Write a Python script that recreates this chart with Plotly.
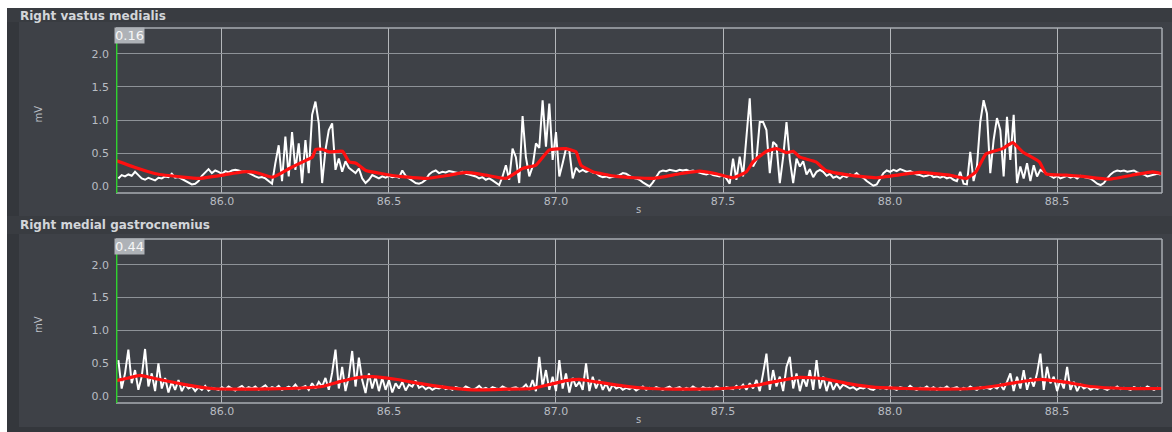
import plotly.graph_objects as go

# ---- EMG recording: rectified signal sampled every 10 ms, plus smoothed envelope ----
T0 = 85.69
DT = 0.01

vm_raw = [
    0.12, 0.17, 0.15, 0.18, 0.16, 0.22, 0.17, 0.12, 0.10, 0.13,
    0.11, 0.09, 0.13, 0.12, 0.15, 0.14, 0.19, 0.13, 0.14, 0.11,
    0.08, 0.05, 0.03, 0.04, 0.08, 0.16, 0.21, 0.26, 0.20, 0.24,
    0.22, 0.19, 0.23, 0.21, 0.24, 0.25, 0.24, 0.22, 0.23, 0.20,
    0.17, 0.15, 0.13, 0.14, 0.12, 0.08, 0.04, 0.35, 0.62, 0.08,
    0.75, 0.15, 0.82, 0.25, 0.65, 0.05, 0.70, 0.20, 1.08, 1.28,
    0.95, 0.05, 0.55, 0.85, 0.95, 0.25, 0.42, 0.22, 0.38, 0.28,
    0.24, 0.20, 0.27, 0.12, 0.05, 0.10, 0.17, 0.14, 0.12, 0.15,
    0.13, 0.16, 0.14, 0.15, 0.13, 0.24, 0.16, 0.12, 0.08, 0.05,
    0.04, 0.06, 0.10, 0.18, 0.22, 0.24, 0.20, 0.22, 0.21, 0.23,
    0.22, 0.21, 0.20, 0.22, 0.19, 0.18, 0.17, 0.15, 0.12, 0.14,
    0.10, 0.12, 0.09, 0.06, 0.02, 0.15, 0.32, 0.10, 0.57, 0.44,
    0.05, 1.06, 0.44, 0.15, 0.30, 0.65, 0.58, 1.30, 0.60, 1.25,
    0.40, 0.82, 0.15, 0.35, 0.57, 0.54, 0.12, 0.28, 0.22, 0.25,
    0.22, 0.24, 0.21, 0.20, 0.16, 0.14, 0.15, 0.13, 0.14, 0.15,
    0.17, 0.20, 0.19, 0.16, 0.13, 0.12, 0.10, 0.06, 0.03, 0.00,
    0.06, 0.14, 0.22, 0.24, 0.23, 0.25, 0.24, 0.23, 0.25, 0.24,
    0.25, 0.23, 0.24, 0.22, 0.20, 0.19, 0.18, 0.20, 0.17, 0.16,
    0.15, 0.17, 0.12, 0.04, 0.42, 0.10, 0.45, 0.15, 0.70, 1.33,
    0.30, 0.40, 0.97, 0.97, 0.85, 0.20, 0.67, 0.62, 0.05, 0.44,
    0.97, 0.40, 0.05, 0.42, 0.30, 0.38, 0.18, 0.26, 0.14, 0.22,
    0.25, 0.22, 0.16, 0.19, 0.13, 0.15, 0.12, 0.16, 0.14, 0.18,
    0.16, 0.20, 0.15, 0.13, 0.08, 0.04, 0.01, 0.03, 0.12, 0.20,
    0.24, 0.22, 0.25, 0.23, 0.26, 0.24, 0.22, 0.23, 0.20, 0.18,
    0.17, 0.15, 0.16, 0.18, 0.14, 0.15, 0.13, 0.15, 0.12, 0.14,
    0.10, 0.08, 0.22, 0.04, 0.03, 0.52, 0.08, 0.30, 0.97, 1.30,
    1.10, 0.20, 0.70, 1.03, 0.85, 0.15, 1.05, 0.40, 1.08, 0.05,
    0.30, 0.12, 0.35, 0.08, 0.32, 0.15, 0.25, 0.22, 0.18, 0.15,
    0.13, 0.16, 0.12, 0.14, 0.16, 0.13, 0.15, 0.12, 0.16, 0.14,
    0.13, 0.12, 0.08, 0.04, 0.02, 0.05, 0.12, 0.18, 0.22, 0.24,
    0.23, 0.24, 0.22, 0.23, 0.24, 0.21, 0.20, 0.18, 0.15, 0.16,
    0.17, 0.19, 0.18,
]

vm_env_t = [
    85.683, 85.743, 85.802, 85.882, 85.932, 86.002, 86.062, 86.102, 86.152, 86.202,
    86.242, 86.271, 86.281, 86.301, 86.321, 86.361, 86.381, 86.401, 86.431, 86.481,
    86.531, 86.611, 86.681, 86.731, 86.790, 86.850, 86.900, 86.940, 86.980, 87.030,
    87.060, 87.075, 87.110, 87.180, 87.290, 87.370, 87.430, 87.480, 87.530, 87.570,
    87.590, 87.630, 87.660, 87.690, 87.710, 87.730, 87.778, 87.808, 87.878, 87.958,
    88.088, 88.178, 88.228, 88.257, 88.287, 88.337, 88.367, 88.397, 88.447, 88.467,
    88.527, 88.577, 88.657, 88.737, 88.786, 88.814,
]
vm_env_v = [
    0.39, 0.28, 0.19, 0.14, 0.12, 0.17, 0.22, 0.21, 0.14, 0.27,
    0.37, 0.44, 0.56, 0.56, 0.52, 0.53, 0.37, 0.35, 0.24, 0.19,
    0.15, 0.12, 0.17, 0.21, 0.17, 0.12, 0.27, 0.32, 0.55, 0.57,
    0.52, 0.32, 0.22, 0.15, 0.12, 0.19, 0.23, 0.19, 0.13, 0.22,
    0.37, 0.53, 0.57, 0.51, 0.53, 0.44, 0.37, 0.24, 0.17, 0.13,
    0.21, 0.17, 0.12, 0.22, 0.49, 0.57, 0.66, 0.52, 0.37, 0.19,
    0.17, 0.15, 0.11, 0.18, 0.22, 0.19,
]

mg_raw = [
    0.55, 0.12, 0.35, 0.71, 0.20, 0.40, 0.10, 0.30, 0.72, 0.15,
    0.35, 0.08, 0.50, 0.12, 0.28, 0.06, 0.22, 0.10, 0.25, 0.08,
    0.18, 0.12, 0.15, 0.08, 0.14, 0.10, 0.16, 0.09, 0.13, 0.12,
    0.10, 0.14, 0.11, 0.15, 0.12, 0.09, 0.13, 0.16, 0.11, 0.14,
    0.12, 0.15, 0.10, 0.13, 0.17, 0.11, 0.14, 0.12, 0.16, 0.10,
    0.13, 0.15, 0.12, 0.18, 0.11, 0.14, 0.16, 0.10, 0.20, 0.12,
    0.22, 0.15, 0.28, 0.10, 0.36, 0.71, 0.12, 0.45, 0.08, 0.30,
    0.69, 0.15, 0.59, 0.25, 0.05, 0.35, 0.12, 0.30, 0.08, 0.28,
    0.10, 0.25, 0.06, 0.20, 0.12, 0.22, 0.09, 0.18, 0.15, 0.24,
    0.13, 0.16, 0.11, 0.14, 0.10, 0.13, 0.12, 0.15, 0.11, 0.13,
    0.10, 0.14, 0.12, 0.11, 0.15, 0.13, 0.10, 0.12, 0.16, 0.11,
    0.13, 0.10, 0.14, 0.12, 0.11, 0.15, 0.12, 0.10, 0.13, 0.14,
    0.11, 0.13, 0.18, 0.10, 0.25, 0.08, 0.60, 0.15, 0.40, 0.10,
    0.30, 0.08, 0.55, 0.12, 0.35, 0.06, 0.28, 0.15, 0.22, 0.10,
    0.50, 0.08, 0.30, 0.12, 0.25, 0.10, 0.20, 0.08, 0.18, 0.12,
    0.15, 0.10, 0.13, 0.11, 0.14, 0.09, 0.12, 0.15, 0.10, 0.13,
    0.11, 0.14, 0.12, 0.10, 0.13, 0.15, 0.11, 0.12, 0.14, 0.10,
    0.13, 0.11, 0.15, 0.12, 0.10, 0.14, 0.12, 0.13, 0.11, 0.15,
    0.12, 0.10, 0.14, 0.13, 0.11, 0.16, 0.12, 0.18, 0.10, 0.20,
    0.12, 0.25, 0.08, 0.35, 0.65, 0.10, 0.40, 0.15, 0.30, 0.08,
    0.45, 0.60, 0.12, 0.35, 0.08, 0.28, 0.15, 0.40, 0.10, 0.55,
    0.12, 0.30, 0.08, 0.25, 0.10, 0.20, 0.12, 0.18, 0.15, 0.12,
    0.14, 0.10, 0.13, 0.12, 0.15, 0.11, 0.10, 0.14, 0.12, 0.13,
    0.11, 0.15, 0.12, 0.10, 0.14, 0.13, 0.11, 0.16, 0.12, 0.10,
    0.13, 0.12, 0.15, 0.11, 0.14, 0.10, 0.13, 0.12, 0.15, 0.11,
    0.12, 0.14, 0.10, 0.13, 0.11, 0.15, 0.12, 0.10, 0.14, 0.12,
    0.13, 0.11, 0.15, 0.12, 0.18, 0.10, 0.22, 0.35, 0.08, 0.30,
    0.12, 0.40, 0.10, 0.28, 0.15, 0.35, 0.65, 0.10, 0.45, 0.20,
    0.30, 0.08, 0.25, 0.12, 0.45, 0.10, 0.22, 0.08, 0.18, 0.12,
    0.15, 0.10, 0.13, 0.11, 0.14, 0.12, 0.10, 0.13, 0.12, 0.15,
    0.11, 0.13, 0.12, 0.10, 0.14, 0.12, 0.13, 0.11, 0.15, 0.12,
    0.10, 0.13, 0.12,
]

mg_env_t = [
    85.683, 85.720, 85.755, 85.810, 85.890, 85.970, 86.080, 86.200, 86.300, 86.350,
    86.400, 86.450, 86.520, 86.600, 86.680, 86.750, 86.850, 86.930, 86.980, 87.030,
    87.070, 87.120, 87.200, 87.280, 87.400, 87.500, 87.600, 87.670, 87.730, 87.800,
    87.880, 87.950, 88.050, 88.150, 88.250, 88.330, 88.400, 88.450, 88.520, 88.600,
    88.700, 88.814,
]
mg_env_v = [
    0.24, 0.28, 0.32, 0.26, 0.18, 0.12, 0.11, 0.12, 0.15, 0.22,
    0.28, 0.30, 0.26, 0.19, 0.13, 0.10, 0.11, 0.12, 0.18, 0.24,
    0.26, 0.22, 0.16, 0.12, 0.11, 0.12, 0.17, 0.24, 0.29, 0.27,
    0.19, 0.14, 0.12, 0.11, 0.12, 0.17, 0.23, 0.26, 0.22, 0.15,
    0.12, 0.12,
]

x_ticks = [86.0, 86.5, 87.0, 87.5, 88.0, 88.5]
y_ticks = [0.0, 0.5, 1.0, 1.5, 2.0]
panel_titles = ["Right vastus medialis", "Right medial gastrocnemius"]
cursor_values = ["0.16", "0.44"]
x_title = "s"
y_title = "mV"

X_RANGE = [85.683, 88.814]
Y_RANGE = [-0.1, 2.39]

vm_t = [round(T0 + i * DT, 3) for i in range(len(vm_raw))]
mg_t = [round(T0 + i * DT, 3) for i in range(len(mg_raw))]

# ---- page geometry (pixels) ----
W, H = 1172, 432
PLOT_L, PLOT_R = 116, 1162
PANELS = [
    # header band, body, plot area (top, bottom)
    dict(head=(8, 22), body=(22, 216), plot=(28, 193)),
    dict(head=(216, 234), body=(234, 427), plot=(239, 403)),
]


def px(x):
    return x / W


def py(y):
    return 1 - y / H


C_FRAME = "#34373c"
C_HEAD = "#393c41"
C_BODY = "#3e4147"
C_PLOT = "#42464c"
C_GRID_H = "#8e9298"
C_GRID_V = "#b4b7bb"
C_TEXT = "#b9bdc3"
C_TITLE = "#d3d6da"

fig = go.Figure()

series = [(vm_t, vm_raw, vm_env_t, vm_env_v), (mg_t, mg_raw, mg_env_t, mg_env_v)]
for k, (t, raw, et, ev) in enumerate(series):
    xa = "x" if k == 0 else "x2"
    ya = "y" if k == 0 else "y2"
    fig.add_trace(go.Scatter(x=t, y=raw, mode="lines", xaxis=xa, yaxis=ya,
                             line=dict(color="#ffffff", width=2.0),
                             hoverinfo="skip", showlegend=False))
    fig.add_trace(go.Scatter(x=et, y=ev, mode="lines", xaxis=xa, yaxis=ya,
                             line=dict(color="#ff1010", width=3.2, shape="spline", smoothing=0.4),
                             hoverinfo="skip", showlegend=False))

shapes = []
annotations = []

# page background: white margin strip on the top and left edges
shapes.append(dict(type="rect", xref="paper", yref="paper", x0=0, x1=1, y0=0, y1=1,
                   fillcolor=C_FRAME, line_width=0, layer="below"))
shapes.append(dict(type="rect", xref="paper", yref="paper", x0=0, x1=1, y0=py(8), y1=1,
                   fillcolor="#ffffff", line_width=0, layer="below"))
shapes.append(dict(type="rect", xref="paper", yref="paper", x0=0, x1=px(7), y0=0, y1=1,
                   fillcolor="#ffffff", line_width=0, layer="below"))

for k, p in enumerate(PANELS):
    h0, h1 = p["head"]
    b0, b1 = p["body"]
    shapes.append(dict(type="rect", xref="paper", yref="paper", x0=px(7), x1=1,
                       y0=py(h1), y1=py(h0), fillcolor=C_HEAD, line_width=0, layer="below"))
    shapes.append(dict(type="rect", xref="paper", yref="paper", x0=px(19), x1=1,
                       y0=py(b1), y1=py(b0), fillcolor=C_BODY, line_width=0, layer="below"))
    xd = "x domain" if k == 0 else "x2 domain"
    yd = "y domain" if k == 0 else "y2 domain"
    xr = "x" if k == 0 else "x2"
    # plot frame (top, right, bottom)
    for (x0, y0, x1, y1) in [(0, 1, 1, 1), (1, 0, 1, 1), (0, 0, 1, 0)]:
        shapes.append(dict(type="line", xref=xd, yref=yd, x0=x0, y0=y0, x1=x1, y1=y1,
                           line=dict(color="#a9adb2", width=1.5), layer="above"))
    # cursor line at the left edge
    shapes.append(dict(type="line", xref=xr, yref=yd, x0=X_RANGE[0] + 0.002, x1=X_RANGE[0] + 0.002,
                       y0=0, y1=1, line=dict(color="#2fd12f", width=1.5), layer="above"))

    annotations.append(dict(text="<b>" + panel_titles[k] + "</b>", xref="paper", yref="paper",
                            x=px(18), y=py((h0 + h1) / 2 + 0.5), xanchor="left", yanchor="middle",
                            showarrow=False, font=dict(family="DejaVu Sans", size=12, color=C_TITLE)))
    annotations.append(dict(text=cursor_values[k], xref="paper", yref="paper",
                            x=px(114), y=py(p["plot"][0] - 1), xanchor="left", yanchor="top",
                            showarrow=False, bgcolor="#aeb2b7", borderpad=0,
                            font=dict(family="DejaVu Sans", size=13, color="#f6f6f6")))
    annotations.append(dict(text=y_title, xref="paper", yref="paper", textangle=-90,
                            x=px(38), y=py((p["plot"][0] + p["plot"][1]) / 2 + 3),
                            xanchor="center", yanchor="middle", showarrow=False,
                            font=dict(family="DejaVu Sans", size=10, color=C_TEXT)))
    annotations.append(dict(text=x_title, xref="paper", yref="paper",
                            x=px((PLOT_L + PLOT_R) / 2), y=py(p["plot"][1] + 16),
                            xanchor="center", yanchor="middle", showarrow=False,
                            font=dict(family="DejaVu Sans", size=10, color=C_TEXT)))

xaxis_common = dict(range=X_RANGE, tickvals=x_ticks, tickformat=".1f", showgrid=True,
                    gridcolor=C_GRID_V, gridwidth=1, zeroline=False, showline=False, ticks="",
                    tickfont=dict(family="DejaVu Sans", size=11, color=C_TEXT),
                    fixedrange=True)
yaxis_common = dict(range=Y_RANGE, tickvals=y_ticks, tickformat=".1f", showgrid=True,
                    gridcolor=C_GRID_H, gridwidth=1, zeroline=False, showline=False, ticks="",
                    ticklabelstandoff=6,
                    tickfont=dict(family="DejaVu Sans", size=11, color=C_TEXT),
                    fixedrange=True)

fig.update_layout(
    width=W, height=H,
    margin=dict(l=0, r=0, t=0, b=0),
    paper_bgcolor=C_FRAME,
    plot_bgcolor=C_PLOT,
    showlegend=False,
    xaxis=dict(domain=[px(PLOT_L), px(PLOT_R)], anchor="y", **xaxis_common),
    yaxis=dict(domain=[py(PANELS[0]["plot"][1]), py(PANELS[0]["plot"][0])], anchor="x",
               **yaxis_common),
    xaxis2=dict(domain=[px(PLOT_L), px(PLOT_R)], anchor="y2", **xaxis_common),
    yaxis2=dict(domain=[py(PANELS[1]["plot"][1]), py(PANELS[1]["plot"][0])], anchor="x2",
                **yaxis_common),
    shapes=shapes,
    annotations=annotations,
)

fig.write_html("out.html")
